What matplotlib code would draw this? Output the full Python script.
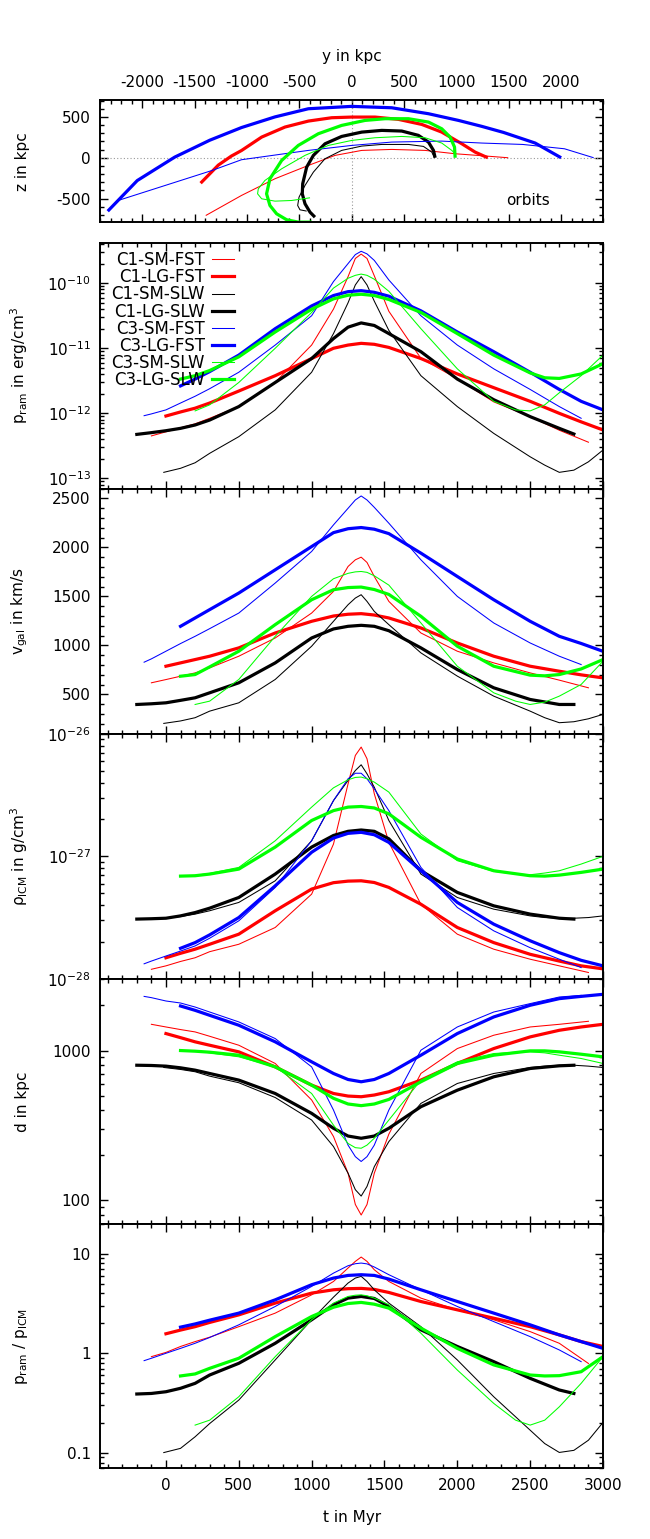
import matplotlib
matplotlib.use("Agg")
import matplotlib.pyplot as plt
from matplotlib.ticker import MultipleLocator, LogLocator, FuncFormatter, NullFormatter

plt.rcParams["font.family"] = ["DejaVu Sans"]
plt.rcParams["font.size"] = 11
plt.rcParams["axes.unicode_minus"] = False
plt.rcParams["mathtext.fontset"] = "dejavusans"

LABELS = ["C1-SM-FST", "C1-LG-FST", "C1-SM-SLW", "C1-LG-SLW",
          "C3-SM-FST", "C3-LG-FST", "C3-SM-SLW", "C3-LG-SLW"]

# ---- C1-SM-FST
T_C1_SM_FST = [-100, 0, 100, 200, 300, 500, 750, 1000, 1150, 1250, 1300, 1340, 1380, 1430, 1530, 1750, 2000, 2250, 2500, 2700, 2900]
PRAM_C1_SM_FST = [4.5e-13, 5.2e-13, 6.0e-13, 6.9e-13, 8.4e-13, 1.27e-12, 3.0e-12, 1.12e-11, 4.0e-11, 1.26e-10, 2.4e-10, 2.8e-10, 2.4e-10, 1.3e-10, 3.7e-11, 7.0e-12, 3.4e-12, 1.5e-12, 8.9e-13, 5.5e-13, 3.6e-13]
VGAL_C1_SM_FST = [619, 652, 686, 720, 771, 890, 1076, 1330, 1551, 1805, 1873, 1900, 1846, 1703, 1449, 1127, 941, 822, 720, 646, 568]
RHO_C1_SM_FST = [1.20e-28, 1.28e-28, 1.39e-28, 1.49e-28, 1.67e-28, 1.92e-28, 2.63e-28, 4.92e-28, 1.26e-27, 3.90e-27, 6.65e-27, 7.78e-27, 6.25e-27, 3.24e-27, 1.30e-27, 4.07e-28, 2.32e-28, 1.75e-28, 1.45e-28, 1.28e-28, 1.13e-28]
DIST_C1_SM_FST = [1496, 1436, 1380, 1331, 1245, 1085, 820, 468, 267, 152, 94, 80, 94, 152, 277, 703, 1031, 1265, 1436, 1496, 1567]
RATIO_C1_SM_FST = [0.925, 1.02, 1.17, 1.31, 1.45, 1.85, 2.53, 3.86, 5.26, 7.18, 8.37, 9.25, 8.37, 6.9, 5.26, 3.58, 2.73, 2.17, 1.65, 1.26, 0.79]
ORB_Y_C1_SM_FST = [-1394, -1052, -733, -414, -159, 96, 382, 701, 988, 1243, 1495]
ORB_Z_C1_SM_FST = [-707, -461, -257, -94, 29, 90, 102, 90, 49, 25, 0]

# ---- C1-LG-FST
T_C1_LG_FST = [0, 100, 200, 300, 500, 750, 1000, 1150, 1250, 1340, 1430, 1530, 1750, 2000, 2250, 2500, 2700, 2850, 3000]
PRAM_C1_LG_FST = [9.1e-13, 1.05e-12, 1.20e-12, 1.44e-12, 2.20e-12, 3.79e-12, 6.95e-12, 1.0e-11, 1.12e-11, 1.19e-11, 1.15e-11, 1.03e-11, 6.95e-12, 4.03e-12, 2.48e-12, 1.53e-12, 1.0e-12, 7.4e-13, 5.55e-13]
VGAL_C1_LG_FST = [788, 822, 856, 890, 975, 1127, 1246, 1300, 1318, 1324, 1310, 1280, 1178, 1025, 890, 788, 737, 700, 669]
RHO_C1_LG_FST = [1.49e-28, 1.62e-28, 1.75e-28, 1.92e-28, 2.32e-28, 3.60e-28, 5.41e-28, 6.10e-28, 6.28e-28, 6.32e-28, 6.12e-28, 5.58e-28, 4.07e-28, 2.63e-28, 1.98e-28, 1.59e-28, 1.40e-28, 1.28e-28, 1.21e-28]
DIST_C1_LG_FST = [1298, 1219, 1143, 1085, 980, 778, 588, 517, 497, 492, 505, 531, 635, 820, 1031, 1233, 1365, 1436, 1496]
RATIO_C1_LG_FST = [1.57, 1.71, 1.85, 2.04, 2.43, 3.19, 4.02, 4.34, 4.45, 4.48, 4.38, 4.08, 3.31, 2.73, 2.25, 1.85, 1.53, 1.31, 1.17]
ORB_Y_C1_LG_FST = [-1443, -1274, -1150, -1052, -860, -637, -414, -191, 0, 223, 446, 669, 860, 1052, 1179, 1300]
ORB_Z_C1_LG_FST = [-311, -90, 20, 89, 253, 376, 449, 490, 498, 498, 470, 408, 314, 171, 69, 0]

# ---- C1-SM-SLW
T_C1_SM_SLW = [-15, 100, 200, 300, 500, 750, 1000, 1150, 1250, 1300, 1340, 1380, 1430, 1530, 1750, 2000, 2250, 2500, 2600, 2700, 2800, 2900, 3000]
PRAM_C1_SM_SLW = [1.24e-13, 1.43e-13, 1.74e-13, 2.43e-13, 4.38e-13, 1.13e-12, 4.28e-12, 1.68e-11, 5.0e-11, 9.4e-11, 1.26e-10, 9.4e-11, 5.3e-11, 1.88e-11, 3.79e-12, 1.27e-12, 4.92e-13, 2.15e-13, 1.60e-13, 1.24e-13, 1.34e-13, 1.80e-13, 2.73e-13]
VGAL_C1_SM_SLW = [205, 230, 263, 330, 415, 653, 992, 1246, 1415, 1483, 1517, 1449, 1347, 1212, 924, 687, 483, 330, 263, 212, 222, 252, 297]
RHO_C1_SM_SLW = [3.13e-28, 3.23e-28, 3.38e-28, 3.60e-28, 4.21e-28, 6.32e-28, 1.34e-27, 2.85e-27, 4.16e-27, 5.01e-27, 5.58e-27, 4.71e-27, 3.66e-27, 1.96e-27, 7.17e-28, 4.62e-28, 3.71e-28, 3.27e-28, 3.17e-28, 3.13e-28, 3.13e-28, 3.17e-28, 3.27e-28]
DIST_C1_SM_SLW = [771, 748, 722, 675, 610, 486, 344, 229, 152, 118, 107, 124, 168, 247, 444, 603, 703, 771, 787, 798, 798, 787, 771]
RATIO_C1_SM_SLW = [0.1007, 0.111, 0.145, 0.197, 0.339, 0.857, 2.17, 3.66, 5.07, 5.69, 5.92, 5.26, 4.34, 3.19, 1.85, 0.857, 0.366, 0.169, 0.124, 0.101, 0.106, 0.134, 0.202]
ORB_Y_C1_SM_SLW = [790, 765, 685, 542, 287, 96, -96, -255, -366, -446, -503, -516, -494, -430]
ORB_Z_C1_SM_SLW = [0, 69, 139, 163, 163, 143, 90, -12, -176, -339, -482, -584, -637, -653]

# ---- C1-LG-SLW
T_C1_LG_SLW = [-200, -100, 0, 100, 200, 300, 500, 750, 1000, 1150, 1250, 1340, 1430, 1530, 1750, 2000, 2250, 2500, 2700, 2800]
PRAM_C1_LG_SLW = [4.75e-13, 5.05e-13, 5.41e-13, 5.88e-13, 6.62e-13, 7.89e-13, 1.27e-12, 2.98e-12, 6.95e-12, 1.41e-11, 2.11e-11, 2.45e-11, 2.24e-11, 1.68e-11, 8.86e-12, 3.36e-12, 1.62e-12, 8.9e-13, 5.88e-13, 4.81e-13]
VGAL_C1_LG_SLW = [398, 405, 415, 440, 466, 517, 619, 822, 1076, 1168, 1195, 1205, 1195, 1150, 975, 754, 568, 449, 398, 398]
RHO_C1_LG_SLW = [3.08e-28, 3.10e-28, 3.13e-28, 3.27e-28, 3.48e-28, 3.78e-28, 4.62e-28, 7.17e-28, 1.19e-27, 1.48e-27, 1.60e-27, 1.64e-27, 1.60e-27, 1.39e-27, 7.63e-28, 5.08e-28, 3.95e-28, 3.38e-28, 3.13e-28, 3.08e-28]
DIST_C1_LG_SLW = [798, 795, 787, 767, 740, 703, 635, 517, 381, 303, 269, 260, 269, 303, 422, 544, 668, 759, 791, 798]
RATIO_C1_LG_SLW = [0.39, 0.395, 0.411, 0.445, 0.499, 0.605, 0.793, 1.26, 2.17, 3.07, 3.58, 3.72, 3.55, 2.95, 1.72, 1.17, 0.824, 0.56, 0.428, 0.395]
ORB_Y_C1_LG_SLW = [797, 781, 733, 637, 478, 287, 96, -96, -255, -366, -430, -468, -472, -446, -398, -351]
ORB_Z_C1_LG_SLW = [0, 90, 192, 274, 327, 335, 314, 261, 171, 29, -114, -318, -441, -563, -666, -727]

# ---- C3-SM-FST
T_C3_SM_FST = [-150, -100, 0, 100, 200, 300, 500, 750, 1000, 1150, 1250, 1300, 1340, 1380, 1430, 1530, 1750, 2000, 2250, 2500, 2700, 2850]
PRAM_C3_SM_FST = [9.2e-13, 9.8e-13, 1.13e-12, 1.44e-12, 1.83e-12, 2.39e-12, 4.28e-12, 1.12e-11, 3.16e-11, 1.06e-10, 2.0e-10, 2.75e-10, 3.09e-10, 2.82e-10, 2.24e-10, 1.12e-10, 3.16e-11, 1.12e-11, 4.83e-12, 2.33e-12, 1.27e-12, 8.4e-13]
VGAL_C3_SM_FST = [829, 863, 941, 1019, 1093, 1171, 1330, 1636, 1958, 2229, 2398, 2483, 2524, 2483, 2408, 2246, 1873, 1500, 1229, 1025, 890, 805]
RHO_C3_SM_FST = [1.33e-28, 1.40e-28, 1.54e-28, 1.69e-28, 1.86e-28, 2.15e-28, 2.98e-28, 5.58e-28, 1.34e-27, 2.85e-27, 4.29e-27, 4.76e-27, 4.76e-27, 4.29e-27, 3.55e-27, 2.36e-27, 8.13e-28, 3.83e-28, 2.47e-28, 1.80e-28, 1.45e-28, 1.24e-28]
DIST_C3_SM_FST = [2297, 2253, 2140, 2075, 1951, 1807, 1552, 1202, 778, 401, 234, 196, 182, 196, 234, 401, 1005, 1436, 1807, 2056, 2275, 2333]
RATIO_C3_SM_FST = [0.843, 0.891, 1.0, 1.12, 1.26, 1.44, 1.93, 2.95, 4.69, 6.38, 7.57, 7.93, 8.05, 7.9, 7.35, 6.15, 4.34, 2.95, 2.08, 1.47, 1.08, 0.824]
ORB_Y_C3_SM_FST = [-2231, -1833, -1335, -1052, -414, 0, 382, 860, 1243, 1633, 2032, 2311]
ORB_Z_C3_SM_FST = [-523, -360, -156, -24, 90, 151, 192, 204, 180, 163, 110, 0]

# ---- C3-LG-FST
T_C3_LG_FST = [100, 200, 300, 500, 750, 1000, 1150, 1250, 1340, 1430, 1530, 1750, 2000, 2250, 2500, 2700, 2850, 3000]
PRAM_C3_LG_FST = [2.64e-12, 3.36e-12, 4.38e-12, 7.85e-12, 2.0e-11, 4.47e-11, 6.46e-11, 7.41e-11, 7.67e-11, 7.24e-11, 6.31e-11, 3.76e-11, 1.78e-11, 8.86e-12, 4.28e-12, 2.33e-12, 1.53e-12, 1.13e-12]
VGAL_C3_LG_FST = [1195, 1280, 1365, 1534, 1771, 2008, 2150, 2190, 2202, 2185, 2140, 1941, 1703, 1466, 1246, 1093, 1020, 940]
RHO_C3_LG_FST = [1.78e-28, 1.98e-28, 2.29e-28, 3.17e-28, 5.75e-28, 1.08e-27, 1.41e-27, 1.54e-27, 1.57e-27, 1.50e-27, 1.30e-27, 7.63e-28, 4.21e-28, 2.80e-28, 2.05e-28, 1.64e-28, 1.42e-28, 1.28e-28]
DIST_C3_LG_FST = [1982, 1854, 1718, 1475, 1143, 841, 703, 641, 619, 641, 703, 931, 1298, 1675, 2004, 2219, 2297, 2371]
RATIO_C3_LG_FST = [1.83, 1.97, 2.15, 2.53, 3.44, 4.88, 5.69, 6.05, 6.15, 6.05, 5.56, 4.34, 3.31, 2.53, 1.93, 1.53, 1.31, 1.12]
ORB_Y_C3_LG_FST = [-2330, -2048, -1690, -1355, -1052, -733, -414, 0, 382, 733, 1020, 1243, 1450, 1752, 2000]
ORB_Z_C3_LG_FST = [-654, -279, 8, 215, 370, 500, 600, 629, 612, 539, 457, 384, 310, 180, 0]

# ---- C3-SM-SLW
T_C3_SM_SLW = [200, 300, 500, 750, 1000, 1150, 1250, 1300, 1340, 1380, 1430, 1530, 1750, 2000, 2250, 2400, 2500, 2600, 2700, 2850, 3000]
PRAM_C3_SM_SLW = [1.09e-12, 1.35e-12, 2.98e-12, 1.0e-11, 3.55e-11, 8.41e-11, 1.19e-10, 1.32e-10, 1.38e-10, 1.32e-10, 1.15e-10, 7.5e-11, 2.0e-11, 4.83e-12, 1.53e-12, 1.13e-12, 1.09e-12, 1.35e-12, 2.07e-12, 3.79e-12, 7.85e-12]
VGAL_C3_SM_SLW = [398, 432, 653, 1093, 1500, 1680, 1735, 1750, 1754, 1745, 1710, 1615, 1229, 788, 517, 432, 398, 422, 483, 602, 839]
RHO_C3_SM_SLW = [7.0e-28, 7.26e-28, 8.13e-28, 1.34e-27, 2.52e-27, 3.62e-27, 4.21e-27, 4.40e-27, 4.43e-27, 4.29e-27, 4.03e-27, 3.34e-27, 1.52e-27, 9.22e-28, 7.54e-28, 7.18e-28, 7.08e-28, 7.31e-28, 7.63e-28, 8.65e-28, 1.0e-27]
DIST_C3_SM_SLW = [1000, 965, 908, 778, 517, 318, 240, 225, 223, 234, 260, 344, 635, 841, 955, 975, 980, 965, 931, 885, 820]
RATIO_C3_SM_SLW = [0.19, 0.213, 0.366, 0.925, 2.17, 3.19, 3.72, 3.83, 3.86, 3.78, 3.58, 3.07, 1.59, 0.679, 0.314, 0.213, 0.19, 0.213, 0.29, 0.499, 0.925]
ORB_Y_C3_SM_SLW = [988, 956, 860, 701, 478, 223, 0, -223, -446, -669, -829, -892, -899, -860, -733, -574, -398]
ORB_Z_C3_SM_SLW = [49, 90, 180, 245, 261, 245, 212, 151, 29, -135, -278, -380, -441, -502, -531, -523, -490]

# ---- C3-LG-SLW
T_C3_LG_SLW = [100, 200, 300, 500, 750, 1000, 1150, 1250, 1340, 1430, 1530, 1750, 2000, 2250, 2500, 2600, 2700, 2850, 3000]
PRAM_C3_LG_SLW = [3.36e-12, 3.79e-12, 4.55e-12, 7.38e-12, 1.78e-11, 3.98e-11, 5.75e-11, 6.53e-11, 6.76e-11, 6.46e-11, 5.62e-11, 3.55e-11, 1.68e-11, 7.85e-12, 4.18e-12, 3.52e-12, 3.44e-12, 4.03e-12, 5.8e-12]
VGAL_C3_LG_SLW = [686, 703, 781, 941, 1212, 1466, 1568, 1590, 1595, 1570, 1520, 1297, 992, 788, 697, 690, 703, 760, 856]
RHO_C3_LG_SLW = [6.90e-28, 6.95e-28, 7.17e-28, 7.87e-28, 1.19e-27, 1.96e-27, 2.36e-27, 2.52e-27, 2.55e-27, 2.48e-27, 2.22e-27, 1.43e-27, 9.51e-28, 7.63e-28, 6.95e-28, 6.90e-28, 7.03e-28, 7.40e-28, 7.87e-28]
DIST_C3_LG_SLW = [1000, 990, 975, 931, 778, 588, 480, 440, 429, 440, 472, 619, 820, 931, 995, 995, 980, 945, 908]
RATIO_C3_LG_SLW = [0.592, 0.62, 0.706, 0.891, 1.47, 2.34, 2.90, 3.16, 3.24, 3.11, 2.84, 1.79, 1.12, 0.764, 0.605, 0.592, 0.596, 0.653, 0.925]
ORB_Y_C3_LG_SLW = [988, 982, 940, 860, 733, 542, 319, 127, -96, -319, -510, -669, -781, -813, -781, -717, -621, -510, -382]
ORB_Z_C3_LG_SLW = [0, 131, 253, 355, 437, 478, 478, 457, 396, 294, 151, -33, -257, -441, -584, -686, -759, -788, -788]

TIMES = [T_C1_SM_FST, T_C1_LG_FST, T_C1_SM_SLW, T_C1_LG_SLW,
         T_C3_SM_FST, T_C3_LG_FST, T_C3_SM_SLW, T_C3_LG_SLW]
PRAM = [PRAM_C1_SM_FST, PRAM_C1_LG_FST, PRAM_C1_SM_SLW, PRAM_C1_LG_SLW,
        PRAM_C3_SM_FST, PRAM_C3_LG_FST, PRAM_C3_SM_SLW, PRAM_C3_LG_SLW]
VGAL = [VGAL_C1_SM_FST, VGAL_C1_LG_FST, VGAL_C1_SM_SLW, VGAL_C1_LG_SLW,
        VGAL_C3_SM_FST, VGAL_C3_LG_FST, VGAL_C3_SM_SLW, VGAL_C3_LG_SLW]
RHO = [RHO_C1_SM_FST, RHO_C1_LG_FST, RHO_C1_SM_SLW, RHO_C1_LG_SLW,
       RHO_C3_SM_FST, RHO_C3_LG_FST, RHO_C3_SM_SLW, RHO_C3_LG_SLW]
DIST = [DIST_C1_SM_FST, DIST_C1_LG_FST, DIST_C1_SM_SLW, DIST_C1_LG_SLW,
        DIST_C3_SM_FST, DIST_C3_LG_FST, DIST_C3_SM_SLW, DIST_C3_LG_SLW]
RATIO = [RATIO_C1_SM_FST, RATIO_C1_LG_FST, RATIO_C1_SM_SLW, RATIO_C1_LG_SLW,
         RATIO_C3_SM_FST, RATIO_C3_LG_FST, RATIO_C3_SM_SLW, RATIO_C3_LG_SLW]
ORB_Y = [ORB_Y_C1_SM_FST, ORB_Y_C1_LG_FST, ORB_Y_C1_SM_SLW, ORB_Y_C1_LG_SLW,
         ORB_Y_C3_SM_FST, ORB_Y_C3_LG_FST, ORB_Y_C3_SM_SLW, ORB_Y_C3_LG_SLW]
ORB_Z = [ORB_Z_C1_SM_FST, ORB_Z_C1_LG_FST, ORB_Z_C1_SM_SLW, ORB_Z_C1_LG_SLW,
         ORB_Z_C3_SM_FST, ORB_Z_C3_LG_FST, ORB_Z_C3_SM_SLW, ORB_Z_C3_LG_SLW]

COLORS = ["#ff0000", "#ff0000", "#000000", "#000000",
          "#0000ff", "#0000ff", "#00ff00", "#00ff00"]
WIDTHS = [0.75, 2.3, 0.75, 2.3, 0.75, 2.3, 0.75, 2.3]

W, H = 650.0, 1539.0
fig = plt.figure(figsize=(6.5, 15.39), dpi=100)

x0, x1 = 100.4, 603.0


def add_ax(top, bottom):
    return fig.add_axes([x0 / W, 1 - bottom / H, (x1 - x0) / W, (bottom - top) / H])


def style(ax):
    for s in ax.spines.values():
        s.set_linewidth(1.4)
    ax.tick_params(which="both", direction="in", top=True, right=True, width=1.0)
    ax.tick_params(which="major", length=6, pad=7)
    ax.tick_params(which="minor", length=3)


# ---- orbits
axo = add_ax(100, 222.3)
style(axo)
axo.axhline(0, color="#999999", lw=0.8, ls=(0, (1, 2)))
axo.axvline(0, color="#999999", lw=0.8, ls=(0, (1, 2)))
for i in range(8):
    axo.plot(ORB_Y[i], ORB_Z[i], color=COLORS[i], lw=WIDTHS[i], solid_capstyle="butt")
axo.set_xlim(-2400, 2400)
axo.set_ylim(-790, 707)
axo.xaxis.set_major_locator(MultipleLocator(500))
axo.xaxis.set_minor_locator(MultipleLocator(100))
axo.yaxis.set_major_locator(MultipleLocator(500))
axo.yaxis.set_minor_locator(MultipleLocator(100))
axo.tick_params(labeltop=True, labelbottom=False)
axo.xaxis.set_label_position("top")
axo.set_xlabel("y in kpc", labelpad=10)
axo.set_ylabel("z in kpc")
axo.text(0.85, 0.18, "orbits", transform=axo.transAxes, ha="center", va="center")

edges = [243.3, 488.5, 733.7, 979.0, 1223.7, 1468.3]
panels = [PRAM, VGAL, RHO, DIST, RATIO]
ylims = [(7e-14, 4.1e-10), (100, 2600), (1e-28, 1e-26), (70, 3000), (0.07, 20)]
logs = [True, False, True, True, True]
ylabels = [r"p$_{\mathrm{ram}}$ in erg/cm$^3$", r"v$_{\mathrm{gal}}$ in km/s",
           r"ρ$_{\mathrm{ICM}}$ in g/cm$^3$", "d in kpc",
           r"p$_{\mathrm{ram}}$ / p$_{\mathrm{ICM}}$"]

axes = []
for k in range(5):
    ax = add_ax(edges[k], edges[k + 1])
    style(ax)
    for i in range(8):
        ax.plot(TIMES[i], panels[k][i], color=COLORS[i], lw=WIDTHS[i], label=LABELS[i])
    if logs[k]:
        ax.set_yscale("log")
        ax.yaxis.set_major_locator(LogLocator(base=10, numticks=20))
        ax.yaxis.set_minor_locator(LogLocator(base=10, subs=range(2, 10), numticks=20))
        ax.yaxis.set_minor_formatter(NullFormatter())
    else:
        ax.yaxis.set_major_locator(MultipleLocator(500))
        ax.yaxis.set_minor_locator(MultipleLocator(100))
    ax.set_ylim(*ylims[k])
    ax.set_xlim(-450, 3000)
    ax.xaxis.set_major_locator(MultipleLocator(500))
    ax.xaxis.set_minor_locator(MultipleLocator(100))
    ax.set_ylabel(ylabels[k])
    if k < 4:
        ax.tick_params(labelbottom=False)
    axes.append(ax)

plain = FuncFormatter(lambda v, p: "%g" % v)
axes[3].yaxis.set_major_formatter(plain)
axes[4].yaxis.set_major_formatter(plain)
axes[4].set_xlabel("t in Myr", labelpad=12)

for ax in [axo] + axes:
    ax.yaxis.set_label_coords(-0.14, 0.5)

axes[0].legend(loc="upper left", bbox_to_anchor=(0.022, 0.968), markerfirst=False,
               frameon=False, fontsize=12, handlelength=1.3, handletextpad=0.45,
               labelspacing=-0.05, borderpad=0, borderaxespad=0)

fig.savefig("out.png", dpi=100)
